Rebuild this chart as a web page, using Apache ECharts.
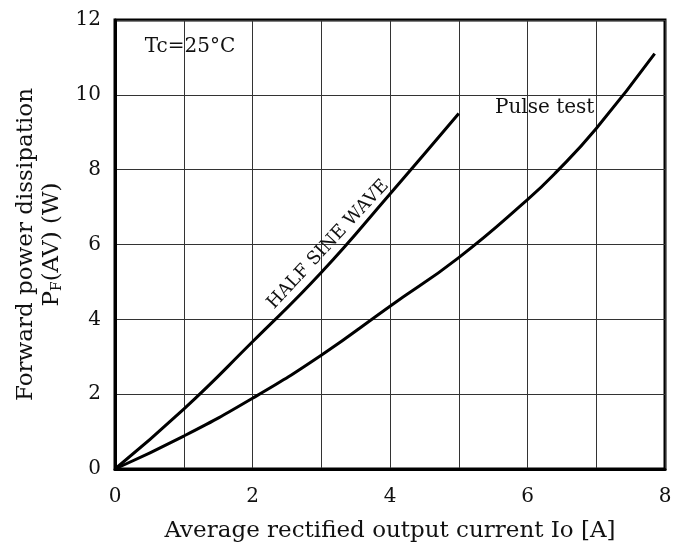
<!DOCTYPE html>
<html>
<head>
<meta charset="utf-8">
<script src="https://cdn.jsdelivr.net/npm/echarts@6/dist/echarts.min.js"></script>
<style>
  html, body { margin: 0; padding: 0; background: #fff; }
  #chart { width: 675px; height: 548px; }
</style>
</head>
<body>
<div id="chart"></div>
<script>
// values
const halfSine = [[0, 0], [1, 1.6], [2, 3.4], [3, 5.25], [4, 7.35], [5, 9.5]];
const pulseTest = [[0, 0], [1, 0.88], [2, 1.89], [3, 3.04], [4, 4.35], [5, 5.65], [6, 7.2], [6.4, 7.9], [7, 9.1], [7.85, 11.1]];
const xTicks = [0, 2, 4, 6, 8];
const yTicks = [0, 2, 4, 6, 8, 10, 12];

const font = '"DejaVu Serif", serif';
const chart = echarts.init(document.getElementById('chart'));

chart.setOption({
  backgroundColor: '#fff',
  animation: false,
  textStyle: { fontFamily: font, color: '#111' },
  grid: { left: 115, right: 10, top: 20, bottom: 78, show: true, borderColor: '#000', borderWidth: 3 },
  xAxis: {
    type: 'value', min: 0, max: 8, interval: 1,
    name: 'Average rectified output current Io [A]',
    nameLocation: 'middle', nameGap: 51,
    nameTextStyle: { fontSize: 23, fontFamily: font, color: '#111' },
    axisLine: { show: true, lineStyle: { color: '#000', width: 3 } },
    axisTick: { show: false },
    axisLabel: {
      fontSize: 20, margin: 18, color: '#111',
      formatter: v => xTicks.includes(v) ? String(v) : ''
    },
    splitLine: { lineStyle: { color: '#333', width: 1 } }
  },
  yAxis: {
    type: 'value', min: 0, max: 12, interval: 2,
    name: '{a|Forward power dissipation}\n{b|P}{s|F}{b|(AV) (W)}',
    nameLocation: 'middle', nameGap: 46, nameRotate: 90,
    nameTextStyle: {
      fontFamily: font,
      rich: {
        a: { fontSize: 23, fontFamily: font, color: '#111', lineHeight: 26 },
        b: { fontSize: 23, fontFamily: font, color: '#111', lineHeight: 26 },
        s: { fontSize: 14, fontFamily: font, color: '#111', verticalAlign: 'bottom', lineHeight: 26 }
      }
    },
    axisLine: { show: true, lineStyle: { color: '#000', width: 3 } },
    axisTick: { show: false },
    axisLabel: {
      fontSize: 20, margin: 14, color: '#111',
      formatter: v => yTicks.includes(v) ? String(v) : ''
    },
    splitLine: { lineStyle: { color: '#333', width: 1 } }
  },
  series: [
    {
      type: 'line', name: 'HALF SINE WAVE', data: halfSine, smooth: true, showSymbol: false,
      lineStyle: { color: '#000', width: 3 },
      markPoint: {
        symbol: 'circle', symbolSize: 0,
        label: { show: true, formatter: 'HALF SINE WAVE', rotate: 47, fontSize: 18, fontFamily: font, color: '#111' },
        data: [{ coord: [3.1, 6.0] }]
      }
    },
    {
      type: 'line', name: 'Pulse test', data: pulseTest, smooth: true, showSymbol: false,
      lineStyle: { color: '#000', width: 3 },
      markPoint: {
        symbol: 'circle', symbolSize: 0,
        label: { show: true, formatter: 'Pulse test', fontSize: 20, fontFamily: font, color: '#111' },
        data: [{ coord: [6.25, 9.65] }]
      }
    },
    {
      type: 'line', name: 'note', data: [],
      markPoint: {
        symbol: 'circle', symbolSize: 0,
        label: { show: true, formatter: 'Tc=25°C', fontSize: 20, fontFamily: font, color: '#111' },
        data: [{ coord: [1.09, 11.28] }]
      }
    }
  ]
});
</script>
</body>
</html>
